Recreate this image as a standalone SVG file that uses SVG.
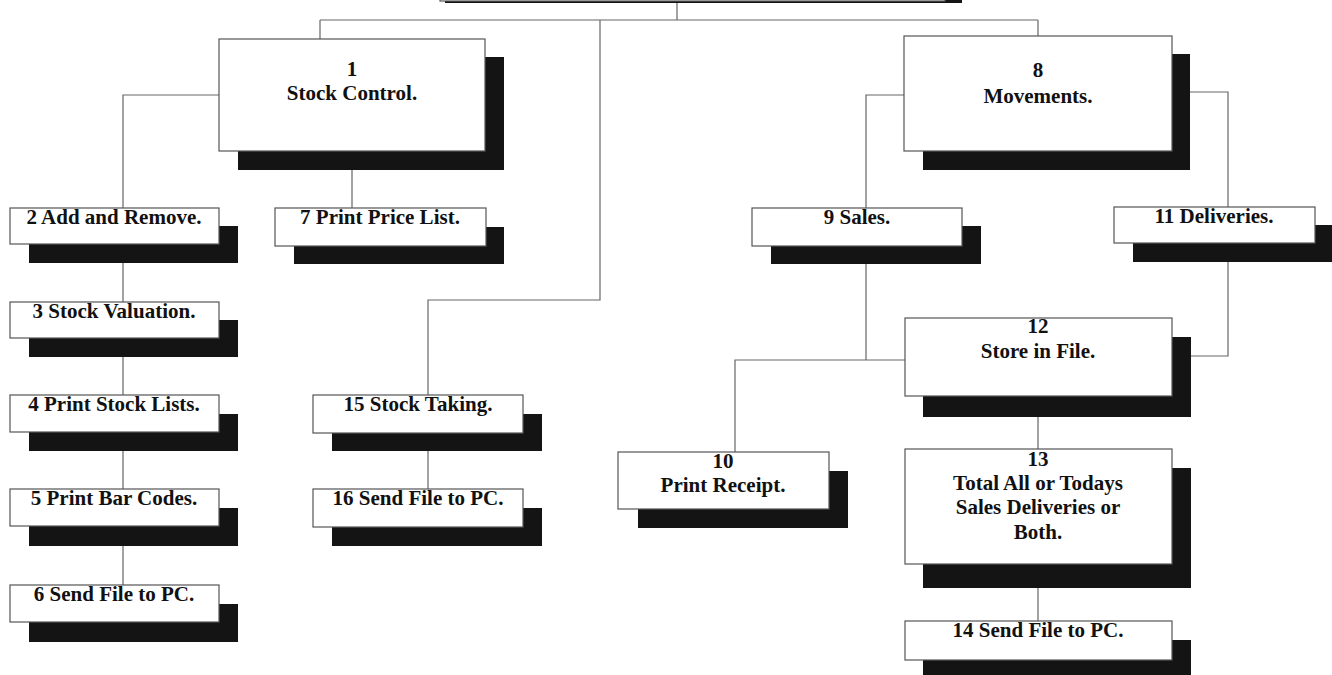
<svg xmlns="http://www.w3.org/2000/svg" width="1332" height="675" viewBox="0 0 1332 675">
<style>
.box{fill:#fff;stroke:#555;stroke-width:1.2}
.sh{fill:#141414}
.t{font-family:"Liberation Serif","Times New Roman",serif;font-weight:bold;font-size:21px;fill:#111;text-anchor:middle}
.c{fill:none;stroke:#666;stroke-width:1.2}
</style>
<rect width="1332" height="675" fill="#fff"/>
<g id="connectors">
<path class="c" d="M677 3V20M320 20H1038M320 20V39M1038 20V36"/>
<path class="c" d="M219 95H123V208M123 262V302M123 357V395M123 451V489M123 546V585"/>
<path class="c" d="M352 170V208"/>
<path class="c" d="M600 20V300H428V395M428 451V489"/>
<path class="c" d="M904 95H866V208M866 264V360H735V452M866 360H905"/>
<path class="c" d="M1190 92H1228V207M1228 262V356H1191"/>
<path class="c" d="M1038 417V449M1038 588V621"/>
</g>
<g id="n0"><rect x="445" y="-40" width="517" height="43" class="sh"/><rect x="440" y="-45" width="505" height="46" class="box"/></g>
<g id="n1"><rect x="238" y="57" width="266" height="113" class="sh"/><rect x="219" y="39" width="266" height="112" class="box"/><text class="t" x="352" y="76">1</text><text class="t" x="352" y="100">Stock Control.</text></g>
<g id="n2"><rect x="29" y="226" width="209" height="37" class="sh"/><rect x="10" y="208" width="209" height="36" class="box"/><text class="t" x="114" y="224">2 Add and Remove.</text></g>
<g id="n3"><rect x="29" y="320" width="209" height="37" class="sh"/><rect x="10" y="302" width="209" height="36" class="box"/><text class="t" x="114" y="318">3 Stock Valuation.</text></g>
<g id="n4"><rect x="29" y="414" width="209" height="37" class="sh"/><rect x="10" y="395" width="209" height="37" class="box"/><text class="t" x="114" y="411">4 Print Stock Lists.</text></g>
<g id="n5"><rect x="29" y="508" width="209" height="38" class="sh"/><rect x="10" y="489" width="209" height="37" class="box"/><text class="t" x="114" y="505">5 Print Bar Codes.</text></g>
<g id="n6"><rect x="29" y="604" width="209" height="38" class="sh"/><rect x="10" y="585" width="209" height="37" class="box"/><text class="t" x="114" y="601">6 Send File to PC.</text></g>
<g id="n7"><rect x="294" y="227" width="210" height="37" class="sh"/><rect x="275" y="208" width="211" height="38" class="box"/><text class="t" x="380" y="224">7 Print Price List.</text></g>
<g id="n15"><rect x="332" y="414" width="210" height="37" class="sh"/><rect x="313" y="395" width="210" height="38" class="box"/><text class="t" x="418" y="411">15 Stock Taking.</text></g>
<g id="n16"><rect x="332" y="508" width="210" height="38" class="sh"/><rect x="313" y="489" width="210" height="38" class="box"/><text class="t" x="418" y="505">16 Send File to PC.</text></g>
<g id="n8"><rect x="923" y="54" width="267" height="116" class="sh"/><rect x="904" y="36" width="268" height="115" class="box"/><text class="t" x="1038" y="77">8</text><text class="t" x="1038" y="103">Movements.</text></g>
<g id="n9"><rect x="771" y="226" width="210" height="38" class="sh"/><rect x="752" y="208" width="210" height="38" class="box"/><text class="t" x="857" y="224">9 Sales.</text></g>
<g id="n11"><rect x="1133" y="225" width="199" height="37" class="sh"/><rect x="1114" y="207" width="201" height="36" class="box"/><text class="t" x="1214" y="223">11 Deliveries.</text></g>
<g id="n10"><rect x="638" y="471" width="210" height="57" class="sh"/><rect x="618" y="452" width="211" height="57" class="box"/><text class="t" x="723" y="468">10</text><text class="t" x="723" y="492">Print Receipt.</text></g>
<g id="n12"><rect x="923" y="337" width="268" height="80" class="sh"/><rect x="905" y="318" width="267" height="78" class="box"/><text class="t" x="1038" y="333">12</text><text class="t" x="1038" y="358">Store in File.</text></g>
<g id="n13"><rect x="923" y="468" width="268" height="120" class="sh"/><rect x="905" y="449" width="267" height="115" class="box"/><text class="t" x="1038" y="466">13</text><text class="t" x="1038" y="490">Total All or Todays</text><text class="t" x="1038" y="514">Sales Deliveries or</text><text class="t" x="1038" y="539">Both.</text></g>
<g id="n14"><rect x="923" y="640" width="268" height="40" class="sh"/><rect x="905" y="621" width="267" height="39" class="box"/><text class="t" x="1038" y="637">14 Send File to PC.</text></g>
</svg>
